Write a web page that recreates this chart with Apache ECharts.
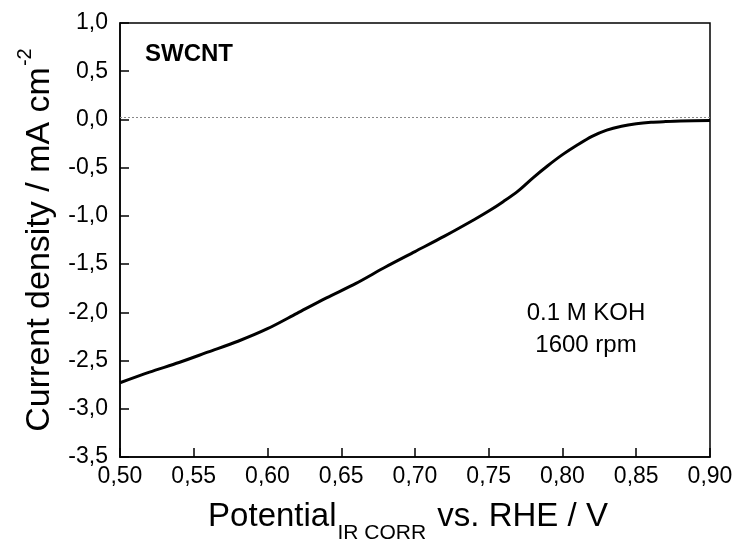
<!DOCTYPE html>
<html>
<head>
<meta charset="utf-8">
<script src="https://cdn.jsdelivr.net/npm/echarts@6/dist/echarts.min.js"></script>
<style>html,body{margin:0;padding:0;background:#fff}#c{width:739px;height:547px}</style>
</head>
<body>
<div id="c"></div>
<script>
var potential = [0.50,0.52,0.54,0.56,0.58,0.60,0.62,0.64,0.66,0.68,0.70,0.72,0.74,0.75,0.76,0.77,0.78,0.79,0.80,0.81,0.82,0.83,0.84,0.85,0.86,0.87,0.88,0.90];
var current = [-2.73,-2.62,-2.52,-2.41,-2.30,-2.17,-2.01,-1.85,-1.70,-1.53,-1.37,-1.21,-1.04,-0.95,-0.85,-0.74,-0.605,-0.48,-0.365,-0.265,-0.175,-0.11,-0.07,-0.045,-0.03,-0.022,-0.016,-0.01];
var zeroLine = 0.02;
var annotations = ['SWCNT', '0.1 M KOH', '1600 rpm'];

var data = potential.map(function(x, i){ return [x, current[i]]; });
var font = 'Liberation Sans, Arial, sans-serif';
var chart = echarts.init(document.getElementById('c'));
chart.setOption({
  animation: false,
  grid: {left: 120, right: 29, top: 23, bottom: 90, containLabel: false, outerBoundsMode: 'none', show: true, borderColor: '#000', borderWidth: 1.5, backgroundColor: 'transparent'},
  xAxis: {
    type: 'value', min: 0.50, max: 0.90, interval: 0.05,
    axisLine: {show: true, onZero: false, lineStyle: {color: '#000', width: 1.5}},
    axisTick: {show: true, inside: true, length: 9, lineStyle: {color: '#000', width: 1.5}},
    splitLine: {show: false},
    axisLabel: {color: '#000', fontSize: 23, fontFamily: font, margin: 8, formatter: function(v){ return v.toFixed(2).replace('.', ','); }},
    name: '{a|Potential}{s|IR CORR}{a| vs. RHE / V}',
    nameLocation: 'middle', nameGap: 43,
    nameTextStyle: {
      padding: [0, 14, 0, 0],
      rich: {
        a: {fontSize: 33, fontFamily: font, color: '#000', verticalAlign: 'bottom'},
        s: {fontSize: 21, fontFamily: font, color: '#000', verticalAlign: 'bottom', padding: [0, 2, -11, 1]}
      }
    }
  },
  yAxis: {
    type: 'value', min: -3.5, max: 1.0, interval: 0.5,
    axisLine: {show: true, onZero: false, lineStyle: {color: '#000', width: 1.5}},
    axisTick: {show: true, inside: true, length: 9, lineStyle: {color: '#000', width: 1.5}},
    splitLine: {show: false},
    axisLabel: {color: '#000', fontSize: 23, fontFamily: font, margin: 12, formatter: function(v){ return v.toFixed(1).replace('.', ','); }},
    name: '{a|Current density / mA cm}{s|-2}',
    nameLocation: 'middle', nameGap: 63, nameRotate: 90,
    nameTextStyle: {
      rich: {
        a: {fontSize: 34, fontFamily: font, color: '#000', verticalAlign: 'top'},
        s: {fontSize: 20, fontFamily: font, color: '#000', verticalAlign: 'top', padding: [-8, 0, 0, 1]}
      }
    }
  },
  series: [{
    type: 'line', data: data, smooth: 0.3, showSymbol: false,
    lineStyle: {color: '#000', width: 3},
    markLine: {
      silent: true, symbol: 'none', label: {show: false},
      lineStyle: {color: '#888', type: [2, 2], width: 1},
      data: [{yAxis: zeroLine}]
    }
  }],
  graphic: [
    {type: 'text', x: 145, y: 54, style: {text: annotations[0], font: 'bold 24px ' + font, fill: '#000', verticalAlign: 'middle'}},
    {type: 'text', x: 586, y: 313, style: {text: annotations[1], font: '24px ' + font, fill: '#000', align: 'center', verticalAlign: 'middle'}},
    {type: 'text', x: 586, y: 345, style: {text: annotations[2], font: '24px ' + font, fill: '#000', align: 'center', verticalAlign: 'middle'}}
  ]
});
</script>
</body>
</html>
